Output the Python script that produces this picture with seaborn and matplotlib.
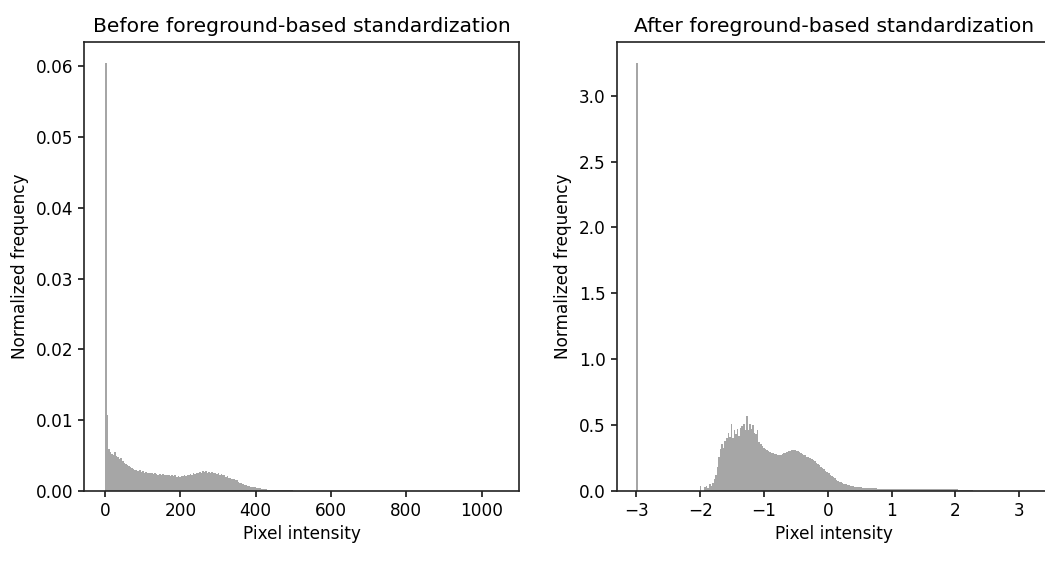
import numpy as np
import pandas as pd
import matplotlib
matplotlib.use("Agg")
import matplotlib.pyplot as plt
import seaborn as sns

sns.set_style("ticks")
plt.rcParams["font.family"] = ["DejaVu Sans"]
plt.rcParams["text.color"] = "black"
plt.rcParams["axes.labelcolor"] = "black"
plt.rcParams["xtick.color"] = "black"
plt.rcParams["ytick.color"] = "black"

# bin layout of the two histograms (256 bins each)
BEFORE_RANGE = (0.0, 1048.0)
AFTER_RANGE = (-3.0, 3.2)
N_BINS = 256

# normalized frequency per bin, before standardization (units of 1e-4)
before_e4 = [
    605, 108, 60, 55, 52, 51, 55, 49, 48, 45, 47, 42, 40, 38, 37, 35, 34, 32, 31, 30,
    29, 28, 29, 27, 28, 26, 27, 26, 25, 26, 25, 24, 25, 24, 23, 24, 23, 24, 22, 23,
    22, 23, 21, 22, 21, 22, 20, 21, 20, 21, 21, 22, 21, 23, 22, 24, 23, 25, 24, 26,
    25, 27, 26, 28, 27, 28, 26, 27, 26, 27, 25, 26, 24, 25, 23, 24, 22, 22, 20, 21,
    19, 19, 17, 17, 15, 15, 13, 12, 11, 10, 9, 8, 7, 7, 6, 6, 5, 5, 4, 4,
    4, 3, 3, 3, 3, 2, 2, 2, 2, 2, 2, 2, 1.5, 1.5, 1.5, 1, 1, 1, 1, 1,
    0.8, 0.8, 0.7, 0.7, 0.7, 0.6, 0.6, 0.6, 0.6, 0.5, 0.5, 0.5, 0.5, 0.5, 0.5, 0.5, 0.5, 0.5, 0.5, 0.5,
    0.5, 0.5, 0.5, 0.5, 0.5, 0.5, 0.5, 0.5, 0.5, 0.5, 0.5, 0.5, 0.5, 0.5, 0.5, 0.5, 0.5, 0.5, 0.5, 0.5,
    0.5, 0.5, 0.5, 0.5, 0.5, 0.5, 0.5, 0.4, 0.4, 0.4, 0.4, 0.4, 0.4, 0.4, 0.4, 0.4, 0.4, 0.4, 0.4, 0.4,
    0.4, 0.4, 0.4, 0.4, 0.4, 0.3, 0.3, 0.3, 0.3, 0.3, 0.3, 0.3, 0.3, 0.3, 0.3, 0.3, 0.2, 0.2, 0.2, 0.2,
    0.2, 0.2, 0.2, 0.2, 0.2, 0.1, 0.1, 0.1, 0.1, 0.1, 0, 0, 0, 0, 0, 0, 0, 0, 0, 0,
    0, 0, 0, 0, 0, 0, 0, 0, 0, 0, 0, 0, 0, 0, 0, 0, 0, 0, 0, 0,
    0, 0, 0, 0, 0, 0, 0, 0, 0, 0, 0, 0, 0, 0, 0, 0,
]

# normalized frequency per bin, after standardization
after_freq = [
    3.245, 0, 0, 0, 0, 0, 0, 0, 0, 0, 0, 0, 0, 0, 0, 0, 0, 0, 0, 0,
    0, 0, 0, 0, 0, 0, 0, 0, 0, 0, 0, 0, 0, 0, 0, 0, 0, 0, 0, 0,
    0, 0.04, 0, 0, 0.03, 0.04, 0.02, 0.05, 0.04, 0.06, 0.09, 0.12, 0.18, 0.26, 0.32, 0.36, 0.33, 0.38, 0.40, 0.44,
    0.41, 0.51, 0.40, 0.46, 0.43, 0.47, 0.42, 0.48, 0.49, 0.51, 0.46, 0.57, 0.46, 0.51, 0.47, 0.50, 0.44, 0.43, 0.46, 0.37,
    0.36, 0.34, 0.33, 0.32, 0.31, 0.30, 0.295, 0.29, 0.285, 0.28, 0.28, 0.275, 0.275, 0.275, 0.28, 0.285, 0.29, 0.295, 0.30, 0.305,
    0.31, 0.31, 0.31, 0.305, 0.30, 0.295, 0.29, 0.28, 0.275, 0.27, 0.26, 0.255, 0.25, 0.24, 0.235, 0.225, 0.215, 0.205, 0.195, 0.185,
    0.175, 0.165, 0.155, 0.145, 0.135, 0.125, 0.115, 0.105, 0.095, 0.087, 0.079, 0.072, 0.066, 0.06, 0.055, 0.05, 0.046, 0.043, 0.04, 0.037,
    0.035, 0.033, 0.031, 0.029, 0.028, 0.027, 0.026, 0.025, 0.024, 0.023, 0.022, 0.021, 0.021, 0.020, 0.020, 0.020, 0.019, 0.019, 0.019, 0.018,
    0.018, 0.018, 0.018, 0.017, 0.017, 0.017, 0.017, 0.017, 0.016, 0.016, 0.016, 0.016, 0.016, 0.016, 0.016, 0.016, 0.016, 0.016, 0.016, 0.016,
    0.016, 0.016, 0.016, 0.016, 0.016, 0.016, 0.016, 0.016, 0.016, 0.016, 0.016, 0.016, 0.016, 0.016, 0.016, 0.016, 0.015, 0.015, 0.015, 0.015,
    0.015, 0.014, 0.014, 0.014, 0.013, 0.013, 0.012, 0.012, 0.011, 0.010, 0.009, 0.008, 0.007, 0.006, 0.005, 0.005, 0.004, 0.004, 0.003, 0.003,
    0.003, 0.002, 0.002, 0.002, 0.002, 0.002, 0.002, 0.002, 0.002, 0.001, 0.001, 0.001, 0.001, 0.001, 0.001, 0.001, 0.001, 0.001, 0.001, 0.001,
    0.001, 0.001, 0.001, 0.001, 0.001, 0.001, 0.001, 0.001, 0.001, 0.001, 0.001, 0.001, 0.001, 0.001, 0.001, 0.001,
]

TITLES = ["Before foreground-based standardization", "After foreground-based standardization"]
XLABEL = "Pixel intensity"
YLABEL = "Normalized frequency"

FS = 12.2

fig = plt.figure(figsize=(10.45, 5.72), dpi=100)
ax1 = fig.add_axes([0.0807, 0.1416, 0.4163, 0.7855])
ax2 = fig.add_axes([0.5901, 0.1416, 0.4163, 0.7855])


def draw(ax, rng, heights, title):
    edges = np.linspace(rng[0], rng[1], N_BINS + 1)
    n = min(len(heights), N_BINS)
    df = pd.DataFrame({"center": (edges[:n] + edges[1:n + 1]) / 2,
                       "freq": list(heights[:n])})
    sns.histplot(data=df, x="center", weights="freq", bins=list(edges), ax=ax,
                 color="gray", alpha=0.7, edgecolor="none", linewidth=0)
    ax.set_title(title, fontsize=14.6, pad=7)
    ax.set_xlabel(XLABEL, fontsize=FS, labelpad=4)
    ax.set_ylabel(YLABEL, fontsize=FS, labelpad=5)
    ax.tick_params(labelsize=FS, width=1.1, length=4.3, color="black")
    for s in ax.spines.values():
        s.set_linewidth(1.2)
        s.set_color("#222222")


draw(ax1, BEFORE_RANGE, [v * 1e-4 for v in before_e4], TITLES[0])
draw(ax2, AFTER_RANGE, after_freq, TITLES[1])

ax1.set_xlim(-55, 1100)
ax1.set_ylim(0, 0.0635)
ax1.set_yticks([0.0, 0.01, 0.02, 0.03, 0.04, 0.05, 0.06])
ax1.set_yticklabels(["0.00", "0.01", "0.02", "0.03", "0.04", "0.05", "0.06"])
ax2.set_xlim(-3.31, 3.51)
ax2.set_ylim(0, 3.41)
ax2.set_xticks([-3, -2, -1, 0, 1, 2, 3])
ax2.set_yticks([0.0, 0.5, 1.0, 1.5, 2.0, 2.5, 3.0])

fig.savefig("out.png", dpi=100, facecolor="white")
